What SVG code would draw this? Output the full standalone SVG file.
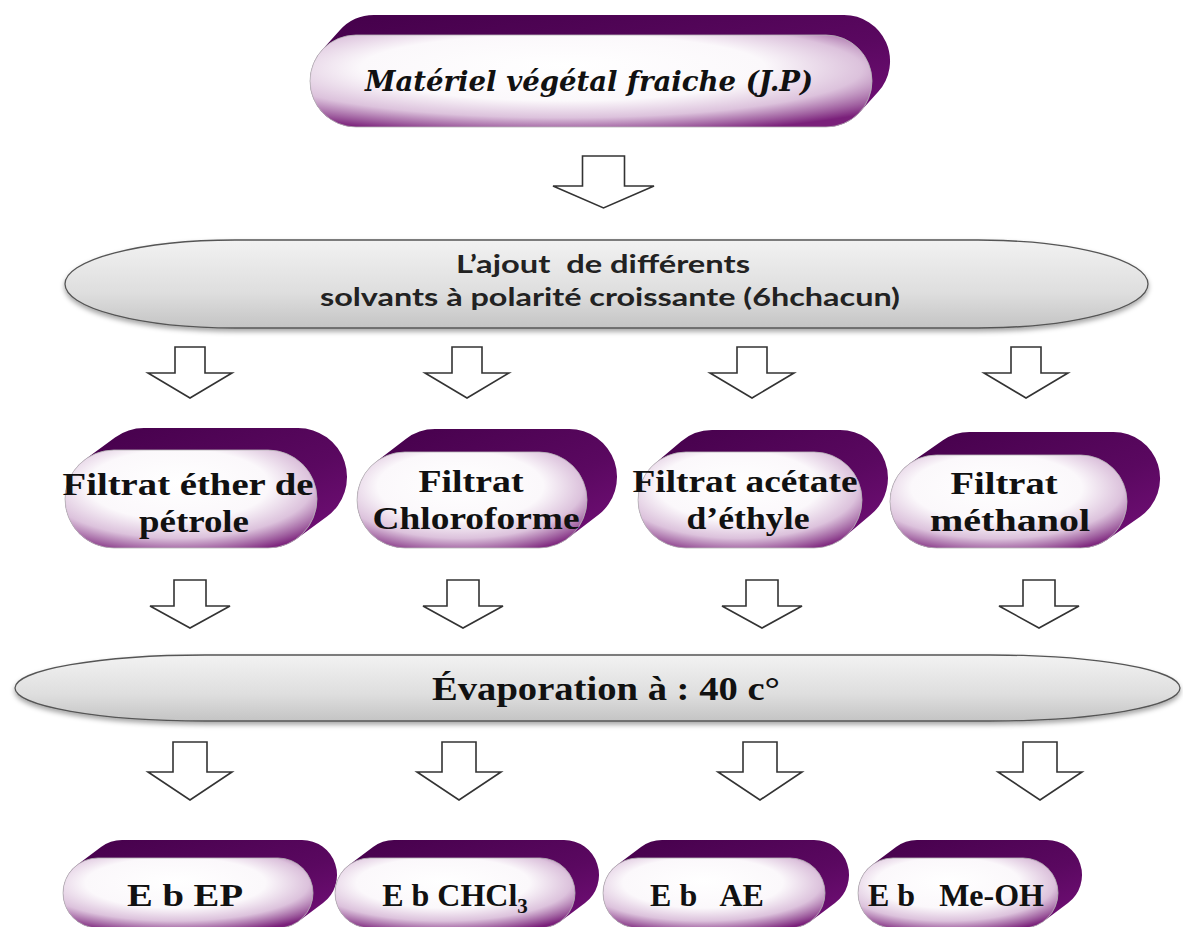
<svg xmlns="http://www.w3.org/2000/svg" width="1183" height="927" viewBox="0 0 1183 927">
<defs>
<radialGradient id="gFront" cx="0.45" cy="0.38" r="0.72" fx="0.45" fy="0.33">
<stop offset="0" stop-color="#ffffff"/>
<stop offset="0.5" stop-color="#fbf8fb"/>
<stop offset="0.74" stop-color="#dcc2dc"/>
<stop offset="0.9" stop-color="#a060a0"/>
<stop offset="1" stop-color="#7a207a"/>
</radialGradient>
<linearGradient id="gBack" x1="0" y1="0" x2="1" y2="1">
<stop offset="0" stop-color="#44004a"/>
<stop offset="0.6" stop-color="#5a0860"/>
<stop offset="1" stop-color="#75107a"/>
</linearGradient>
<linearGradient id="gGray" x1="0" y1="0" x2="0" y2="1">
<stop offset="0" stop-color="#f2f2f2"/>
<stop offset="0.6" stop-color="#dedede"/>
<stop offset="1" stop-color="#c4c4c4"/>
</linearGradient>
<filter id="sh" x="-5%" y="-20%" width="110%" height="150%">
<feDropShadow dx="0" dy="3" stdDeviation="2.5" flood-color="#000" flood-opacity="0.35"/>
</filter>
</defs>
<style>
.back{fill:url(#gBack)}
.front{fill:url(#gFront);stroke:#b8b8b8;stroke-width:0.8}
.ell{fill:url(#gGray);stroke:#555;stroke-width:1.3;filter:url(#sh)}
.arr{fill:#fff;stroke:#333;stroke-width:1.6;stroke-linejoin:miter}
.t1{font-family:"DejaVu Serif",serif;font-weight:bold;font-style:italic;font-size:28px;fill:#111}
.tc{font-family:Lato,"Open Sans",sans-serif;font-weight:bold;font-size:24px;fill:#222}
.tf{font-family:"Liberation Serif",serif;font-weight:bold;font-size:32px;fill:#111}
.te{font-family:"Liberation Serif",serif;font-weight:bold;font-size:33px;fill:#111}
.tb{font-family:"Liberation Serif",serif;font-weight:bold;font-size:32px;fill:#111}
</style>
<rect width="1183" height="927" fill="#fff"/>

<g id="connectors">
<path class="arr" d="M582.5,156 H624.5 V186 H654 L603.5,208 L553,186 H582.5 Z"/>
<path class="arr" d="M175,347 H205 V373 H232 L190,398 L148,373 H175 Z"/>
<path class="arr" d="M452,347 H482 V373 H509 L467,398 L425,373 H452 Z"/>
<path class="arr" d="M737,347 H767 V373 H794 L752,398 L710,373 H737 Z"/>
<path class="arr" d="M1011,347 H1041 V373 H1068 L1026,398 L984,373 H1011 Z"/>
<path class="arr" d="M174,580 H206 V606 H230 L190,628 L150,606 H174 Z"/>
<path class="arr" d="M447,580 H479 V606 H503 L463,628 L423,606 H447 Z"/>
<path class="arr" d="M746,580 H778 V606 H802 L762,628 L722,606 H746 Z"/>
<path class="arr" d="M1023,580 H1055 V606 H1079 L1039,628 L999,606 H1023 Z"/>
<path class="arr" d="M173,742 H207 V772 H232 L190,800 L148,772 H173 Z"/>
<path class="arr" d="M442,742 H476 V772 H501 L459,800 L417,772 H442 Z"/>
<path class="arr" d="M743,742 H777 V772 H802 L760,800 L718,772 H743 Z"/>
<path class="arr" d="M1023,742 H1057 V772 H1082 L1040,800 L998,772 H1023 Z"/>
</g>

<g id="n-materiel">
<path class="back" d="M321.8,50.2 L339.8,30.2 A46,46 0 0 1 374,15 L844,15 A46,46 0 0 1 878.2,91.8 L860.2,111.8 A46,46 0 0 1 826,127 L356,127 A46,46 0 0 1 321.8,50.2 Z"/>
<rect class="front" x="310" y="35" width="562" height="92" rx="46"/>
<text class="t1" x="589" y="91" text-anchor="middle" textLength="448" lengthAdjust="spacingAndGlyphs">Matériel végétal fraiche (J.P)</text>
</g>

<g id="n-ajout">
<rect class="ell" x="65" y="240" width="1083" height="88" rx="170" ry="44"/>
<text class="tc" x="603" y="273" text-anchor="middle" xml:space="preserve" textLength="294" lengthAdjust="spacingAndGlyphs">L’ajout  de différents</text>
<text class="tc" x="610" y="306" text-anchor="middle" textLength="580" lengthAdjust="spacingAndGlyphs">solvants à polarité croissante (6hchacun)</text>
</g>

<g id="n-f1">
<path class="back" d="M85,459.5 L115,437.5 A49,49 0 0 1 144,428 L298,428 A49,49 0 0 1 327,516.5 L297,538.5 A49,49 0 0 1 268,548 L114,548 A49,49 0 0 1 85,459.5 Z"/>
<rect class="front" x="65" y="450" width="252" height="98" rx="49"/>
<text class="tf" x="188" y="495" text-anchor="middle" textLength="251" lengthAdjust="spacingAndGlyphs">Filtrat éther de</text>
<text class="tf" x="194" y="532" text-anchor="middle" textLength="110" lengthAdjust="spacingAndGlyphs">pétrole</text>
</g>

<g id="n-f2">
<path class="back" d="M375.8,461.9 L405.8,438.9 A48,48 0 0 1 435,429 L569,429 A48,48 0 0 1 598.2,515.1 L568.2,538.1 A48,48 0 0 1 539,548 L405,548 A48,48 0 0 1 375.8,461.9 Z"/>
<rect class="front" x="357" y="452" width="230" height="96" rx="48"/>
<text class="tf" x="471" y="492" text-anchor="middle" textLength="105" lengthAdjust="spacingAndGlyphs">Filtrat</text>
<text class="tf" x="476" y="529" text-anchor="middle" textLength="207" lengthAdjust="spacingAndGlyphs">Chloroforme</text>
</g>

<g id="n-f3">
<path class="back" d="M655,463.4 L681,441.4 A48,48 0 0 1 712,430 L840,430 A48,48 0 0 1 871,514.6 L845,536.6 A48,48 0 0 1 814,548 L686,548 A48,48 0 0 1 655,463.4 Z"/>
<rect class="front" x="638" y="452" width="224" height="96" rx="48"/>
<text class="tf" x="745" y="492" text-anchor="middle" textLength="225" lengthAdjust="spacingAndGlyphs">Filtrat acétate</text>
<text class="tf" x="748" y="529" text-anchor="middle" textLength="123" lengthAdjust="spacingAndGlyphs">d’éthyle</text>
</g>

<g id="n-f4">
<path class="back" d="M909.9,463.3 L942.9,440.3 A46.5,46.5 0 0 1 969.5,432 L1113.5,432 A46.5,46.5 0 0 1 1140.1,516.7 L1107.1,539.7 A46.5,46.5 0 0 1 1080.5,548 L936.5,548 A46.5,46.5 0 0 1 909.9,463.3 Z"/>
<rect class="front" x="890" y="455" width="237" height="93" rx="46.5"/>
<text class="tf" x="1004" y="494" text-anchor="middle" textLength="107" lengthAdjust="spacingAndGlyphs">Filtrat</text>
<text class="tf" x="1010" y="531" text-anchor="middle" textLength="160" lengthAdjust="spacingAndGlyphs">méthanol</text>
</g>

<g id="n-evap">
<rect class="ell" x="15" y="655" width="1165" height="66" rx="190" ry="33"/>
<text class="te" x="606" y="700" text-anchor="middle" textLength="348" lengthAdjust="spacingAndGlyphs">Évaporation à : 40 c°</text>
</g>

<g id="n-b1">
<path class="back" d="M77,865 L101,847 A35,35 0 0 1 122,840 L302,840 A35,35 0 0 1 323,903 L299,921 A35,35 0 0 1 278,928 L98,928 A35,35 0 0 1 77,865 Z"/>
<rect class="front" x="63" y="858" width="250" height="70" rx="35"/>
<text class="tb" x="185" y="906" text-anchor="middle" textLength="116" lengthAdjust="spacingAndGlyphs">E b EP</text>
</g>

<g id="n-b2">
<path class="back" d="M349,865 L373,847 A35,35 0 0 1 394,840 L564,840 A35,35 0 0 1 585,903 L561,921 A35,35 0 0 1 540,928 L370,928 A35,35 0 0 1 349,865 Z"/>
<rect class="front" x="335" y="858" width="240" height="70" rx="35"/>
<text class="tb" x="455" y="906" text-anchor="middle">E b CHCl<tspan font-size="21" dy="7">3</tspan></text>
</g>

<g id="n-b3">
<path class="back" d="M617,865 L641,847 A35,35 0 0 1 662,840 L814,840 A35,35 0 0 1 835,903 L811,921 A35,35 0 0 1 790,928 L638,928 A35,35 0 0 1 617,865 Z"/>
<rect class="front" x="603" y="858" width="222" height="70" rx="35"/>
<text class="tb" x="707" y="906" text-anchor="middle" xml:space="preserve">E b   AE</text>
</g>

<g id="n-b4">
<path class="back" d="M872,865 L896,847 A35,35 0 0 1 917,840 L1047,840 A35,35 0 0 1 1068,903 L1044,921 A35,35 0 0 1 1023,928 L893,928 A35,35 0 0 1 872,865 Z"/>
<rect class="front" x="858" y="858" width="200" height="70" rx="35"/>
<text class="tb" x="956" y="906" text-anchor="middle" xml:space="preserve">E b   Me-OH</text>
</g>
</svg>
